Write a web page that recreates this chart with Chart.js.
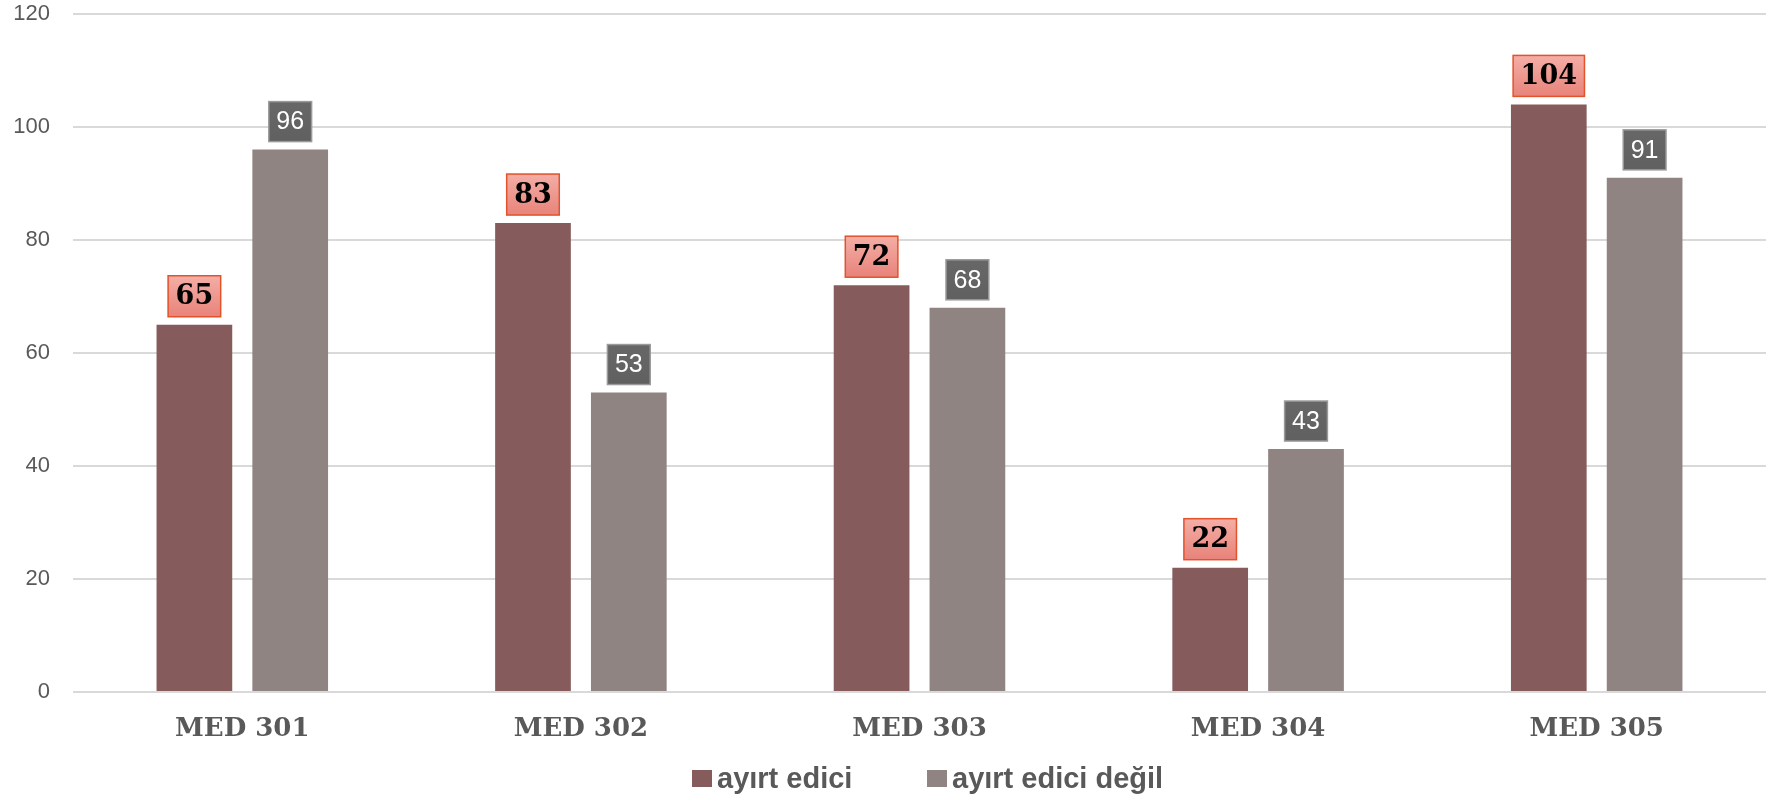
<!DOCTYPE html>
<html>
<head>
<meta charset="utf-8">
<script src="https://cdn.jsdelivr.net/npm/chart.js@4"></script>
<style>
    body { margin: 0; background: #fff; }
    #wrap { position: relative; width: 1771px; height: 801px; }
    .leg { position: absolute; top: 760px; height: 36px; display: flex; align-items: center;
        font: bold 29px "Liberation Sans", Arial, sans-serif; color: #595959; white-space: nowrap; }
    .leg span.box { display: inline-block; width: 20px; height: 17px; margin-right: 5px; }
</style>
</head>
<body>
<div id="wrap">
    <canvas id="myChart"></canvas>
    <div class="leg" style="left: 692px;"><span class="box" style="background:#855c5b"></span>ayırt edici</div>
    <div class="leg" style="left: 927px;"><span class="box" style="background:#8f8482"></span>ayırt edici değil</div>
</div>
<script>
const categories = ["MED 301", "MED 302", "MED 303", "MED 304", "MED 305"];
const ayirtEdici = [65, 83, 72, 22, 104];
const ayirtEdiciDegil = [96, 53, 68, 43, 91];
const yTicks = [0, 20, 40, 60, 80, 100, 120];

// label box look for each dataset
const labelStyles = [
    { font: 'bold 27px "DejaVu Serif", serif', color: "#000", fillTop: "#f4aea6", fillBottom: "#e8837a", stroke: "#e2522b", height: 41 },
    { font: '25px "Liberation Sans", Arial, sans-serif', color: "#fff", fillTop: "#676767", fillBottom: "#606060", stroke: "#9a9a9a", height: 40 }
];

const valueBoxes = {
    id: "valueBoxes",
    afterDatasetsDraw(chart) {
        const ctx = chart.ctx;
        chart.data.datasets.forEach(function (ds, i) {
            const st = labelStyles[i];
            chart.getDatasetMeta(i).data.forEach(function (bar, j) {
                const txt = String(ds.data[j]);
                ctx.save();
                ctx.font = st.font;
                const w = ctx.measureText(txt).width + 15;
                const h = st.height;
                const left = bar.x - w / 2;
                const top = bar.y - 8 - h;
                const grad = ctx.createLinearGradient(0, top, 0, top + h);
                grad.addColorStop(0, st.fillTop);
                grad.addColorStop(1, st.fillBottom);
                ctx.fillStyle = grad;
                ctx.fillRect(left, top, w, h);
                ctx.strokeStyle = st.stroke;
                ctx.lineWidth = 1.5;
                ctx.strokeRect(left, top, w, h);
                ctx.fillStyle = st.color;
                ctx.textAlign = "center";
                ctx.textBaseline = "middle";
                ctx.fillText(txt, bar.x, top + h / 2 + 1);
                ctx.restore();
            });
        });
    }
};

new Chart(document.getElementById("myChart"), {
    type: "bar",
    data: {
        labels: categories,
        datasets: [
            { label: "ayırt edici", data: ayirtEdici, backgroundColor: "#855c5b" },
            { label: "ayırt edici değil", data: ayirtEdiciDegil, backgroundColor: "#8f8482" }
        ]
    },
    options: {
        responsive: true,
        maintainAspectRatio: false,
        animation: false,
        barPercentage: 0.79,
        categoryPercentage: 0.566,
        layout: { padding: { top: 14, right: 5, left: 0, bottom: 0 } },
        plugins: {
            legend: { display: false },
            tooltip: { enabled: false }
        },
        scales: {
            x: {
                grid: { display: false, drawTicks: false },
                border: { display: false },
                ticks: {
                    padding: 22,
                    color: "#595959",
                    font: { family: "DejaVu Serif", size: 26, weight: "bold" }
                },
                afterFit: function (scale) { scale.height = 109; }
            },
            y: {
                min: 0,
                max: 120,
                afterBuildTicks: function (scale) {
                    scale.ticks = yTicks.map(function (v) { return { value: v }; });
                },
                grid: { color: "#d9d9d9", lineWidth: 2, drawTicks: false },
                border: { display: false },
                ticks: {
                    padding: 23,
                    color: "#595959",
                    font: { family: "Liberation Sans", size: 22 }
                },
                afterFit: function (scale) {
                    scale.width = 73;
                    scale.paddingTop = 0;
                    scale.paddingBottom = 0;
                }
            }
        }
    },
    plugins: [valueBoxes]
});
</script>
</body>
</html>
